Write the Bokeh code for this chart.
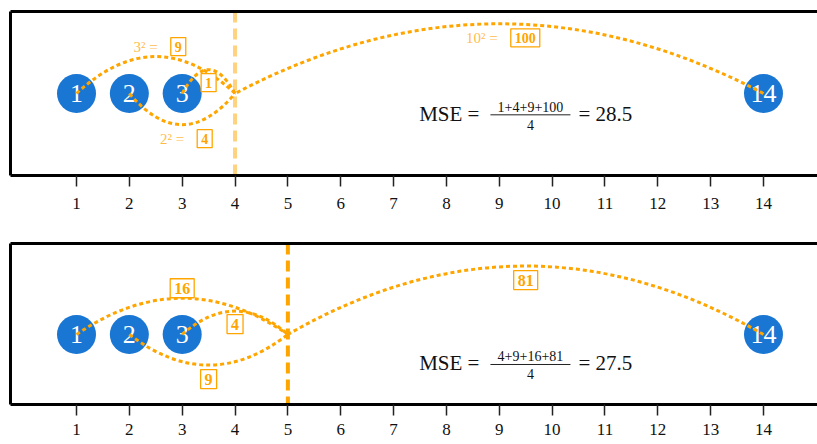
import numpy as np
from bokeh.plotting import figure
from bokeh.models import Span, Label, LinearAxis, FixedTicker, Range1d, ColumnDataSource
from bokeh.layouts import column
from bokeh.embed import file_html
from bokeh.resources import INLINE
from bokeh.core.properties import value

# ---------------- data ----------------
points = [1, 2, 3, 14]
point_labels = ["1", "2", "3", "14"]
thresholds = [4, 5]
sq_errors = [[9, 4, 1, 100], [16, 9, 4, 81]]
distances = [[3, 2, 1, 10], [4, 3, 2, 9]]
mse_values = [28.5, 27.5]
tick_values = list(range(1, 15))
tick_labels = [str(t) for t in tick_values]

# ---------------- style ----------------
ORANGE = "#FFA500"
BLUE = "#1976D2"
SERIF = "Liberation Serif"
BULGE = [0.45, -0.38, 0.29, 0.85]      # arc height (y-range units)
LABEL_DY = [10, -14, -13, -14]          # label offset from arc apex (px, up positive)


def make_panel(k, frame_h, y_rng, border_top, border_bottom, standoff, show_prefix,
               line_alpha, box_font, box_pad, mse_y):
    thr = thresholds[k]
    p = figure(frame_width=807, frame_height=frame_h,
               x_range=Range1d(-0.249, 15.022), y_range=Range1d(*y_rng),
               output_backend="svg", toolbar_location=None,
               min_border_left=10, min_border_right=0, min_border_top=border_top,
               min_border_bottom=border_bottom)
    p.outline_line_color = None
    p.grid.visible = False
    p.background_fill_color = "white"
    p.border_fill_color = "white"

    xa = p.xaxis[0]
    xa.ticker = FixedTicker(ticks=tick_values)
    xa.major_label_overrides = {t: s for t, s in zip(tick_values, tick_labels)}
    xa.axis_line_width = 3
    xa.axis_line_color = "black"
    xa.major_tick_out = 11
    xa.major_tick_in = 0
    xa.major_tick_line_width = 1.5
    xa.major_tick_line_color = "#222222"
    xa.minor_tick_out = 0
    xa.minor_tick_in = 0
    xa.major_label_text_font = SERIF
    xa.major_label_text_font_size = "17px"
    xa.major_label_text_color = "#111111"
    xa.major_label_standoff = standoff

    ya = p.yaxis[0]
    ya.ticker = FixedTicker(ticks=[])
    ya.axis_line_width = 3
    ya.axis_line_color = "black"
    ya.major_tick_out = 0
    ya.major_tick_in = 0
    ya.minor_tick_out = 0
    ya.minor_tick_in = 0
    ya.major_label_text_font_size = "0px"

    top = LinearAxis(ticker=FixedTicker(ticks=[]), axis_line_width=3,
                     axis_line_color="black", major_tick_out=0, major_tick_in=0,
                     minor_tick_out=0, minor_tick_in=0,
                     major_label_text_font_size="0px")
    p.add_layout(top, "above")

    # threshold line
    p.add_layout(Span(location=thr, dimension="height", line_color=ORANGE,
                      line_alpha=line_alpha, line_width=4, line_dash="11 6",
                      level="underlay"))

    # points
    zeros = [0] * len(points)
    p.scatter(x=points, y=zeros, size=39, fill_color=BLUE, line_color=None)
    p.text(x=points, y=zeros, text=point_labels, text_color="white",
           text_font=value(SERIF), text_font_size="26px",
           text_align="center", text_baseline="middle")

    # arcs
    src = ColumnDataSource(dict(
        x0=points, y0=zeros, x1=[thr] * len(points), y1=zeros,
        cx=[(x + thr) / 2 for x in points], cy=[2 * b for b in BULGE]))
    p.quadratic(x0="x0", y0="y0", x1="x1", y1="y1", cx="cx", cy="cy",
                source=src, line_color=ORANGE, line_width=3, line_dash="4 3")

    # arc labels
    for i, x in enumerate(points):
        mid = (x + thr) / 2
        d = distances[k][i]
        txt = str(sq_errors[k][i])
        common = dict(x=mid, y=BULGE[i], y_offset=LABEL_DY[i],
                      text_baseline="middle", text_font=SERIF)
        if show_prefix and d > 1:
            pw = 29 if d < 10 else 36
            bw = 7 * len(txt) + 9
            gap = 9
            left = -(pw + gap + bw) / 2
            p.add_layout(Label(text=f"{d}² =", x_offset=left + pw,
                               text_align="right", text_font_size="15px",
                               text_color=ORANGE, text_alpha=0.75, **common))
            p.add_layout(Label(text=txt, x_offset=left + pw + gap + box_pad,
                               text_align="left", text_font_size=box_font,
                               text_font_style="bold", text_color=ORANGE,
                               border_line_color=ORANGE, border_line_width=1.3,
                               background_fill_color="white",
                               padding=box_pad, **common))
        else:
            p.add_layout(Label(text=txt, x_offset=0, text_align="center",
                               text_font_size=box_font, text_font_style="bold",
                               text_color=ORANGE, border_line_color=ORANGE,
                               border_line_width=1.3, background_fill_color="white",
                               padding=box_pad, **common))

    # MSE formula
    ax = 9.59
    numer = "+".join(str(v) for v in sorted(sq_errors[k]))
    mcommon = dict(x=ax, y=mse_y, text_font=SERIF, text_color="#111111",
                   text_baseline="middle")
    p.add_layout(Label(text="MSE =", x_offset=-51, y_offset=1, text_align="right",
                       text_font_size="21px", **mcommon))
    p.add_layout(Label(text=numer, x_offset=0, y_offset=8, text_align="center",
                       text_font_size="14px", **mcommon))
    p.add_layout(Label(text=str(len(points)), x_offset=0, y_offset=-10,
                       text_align="center", text_font_size="14px", **mcommon))
    p.add_layout(Label(text=f"= {mse_values[k]}", x_offset=48, y_offset=1,
                       text_align="left", text_font_size="21px", **mcommon))
    p.scatter(x=[ax], y=[mse_y], marker="dash", size=80, line_color="#222222",
              line_width=1)
    return p


p1 = make_panel(0, 164, (-1.0, 1.0), 11, 65, 11, True, 0.5, "14px", 4, -0.26)
p2 = make_panel(1, 161, (-0.87, 1.13), 3, 40, 8, False, 1.0, "16px", 4, -0.373)

layout = column(p1, p2)
open("out.html", "w").write(file_html(layout, INLINE))
